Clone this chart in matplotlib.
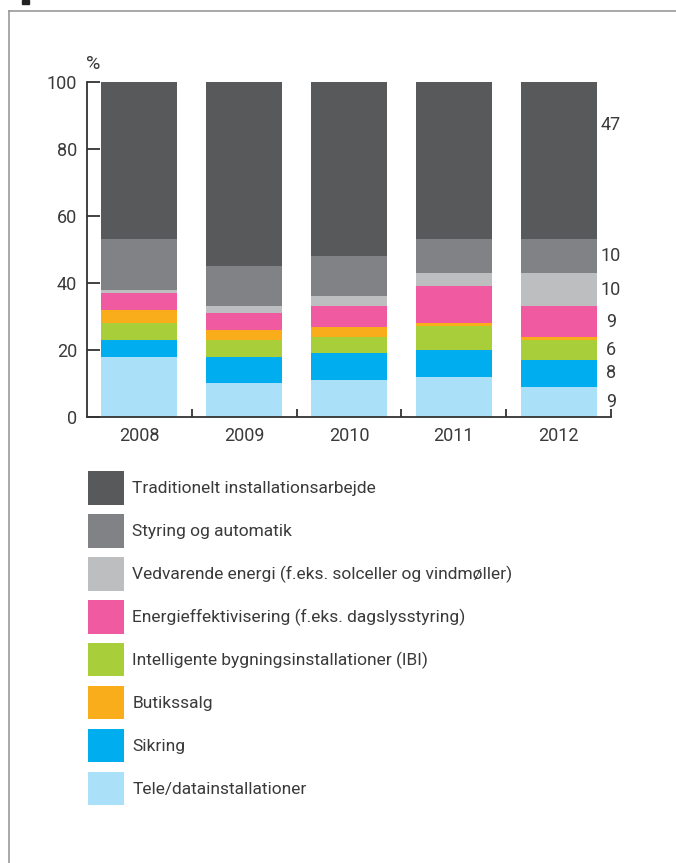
import numpy as np
import matplotlib.pyplot as plt
from matplotlib.patches import Patch, Rectangle
from matplotlib.lines import Line2D

plt.rcParams['font.family'] = ['Liberation Sans Narrow', 'Roboto', 'DejaVu Sans']

years = ['2008', '2009', '2010', '2011', '2012']

# stacked bottom to top
names = ['Tele/datainstallationer', 'Sikring',
         'Intelligente bygningsinstallationer (IBI)', 'Butikssalg',
         'Energieffektivisering (f.eks. dagslysstyring)',
         'Vedvarende energi (f.eks. solceller og vindmøller)',
         'Styring og automatik', 'Traditionelt installationsarbejde']
tele = [18, 10, 11, 12, 9]
sikring = [5, 8, 8, 8, 8]
ibi = [5, 5, 5, 7.3, 6]
butik = [4, 3, 3, 0.7, 1]
energi = [5, 5, 6, 11, 9]
vedvarende = [1, 2, 3, 4, 10]
styring = [15, 12, 12, 10, 10]
traditionelt = [47, 55, 52, 47, 47]
stack = [tele, sikring, ibi, butik, energi, vedvarende, styring, traditionelt]

colors = ['#abe0f9', '#00aeef', '#a8cf3a', '#f9ad1b', '#ef5aa0',
          '#bcbec0', '#808285', '#58595b']
legend_order = ['Traditionelt installationsarbejde', 'Styring og automatik',
                'Vedvarende energi (f.eks. solceller og vindmøller)',
                'Energieffektivisering (f.eks. dagslysstyring)',
                'Intelligente bygningsinstallationer (IBI)', 'Butikssalg',
                'Sikring', 'Tele/datainstallationer']
# labels shown to the right of the 2012 bar (Butikssalg has none)
right_labels = ['9', '8', '6', '', '9', '10', '10', '47']

txt = '#3a3a3a'
W, H = 676, 863
fig = plt.figure(figsize=(W / 100, H / 100), dpi=100)
ax = fig.add_axes([87 / W, 1 - 417 / H, 524 / W, 335 / H])

x = np.arange(len(years))
bottom = np.zeros(len(years))
for vals, name, c in zip(stack, names, colors):
    ax.bar(x, vals, bottom=bottom, width=0.725, color=c, label=name,
           clip_on=False, zorder=2)
    bottom += np.array(vals)

# value labels next to the 2012 bar
last = np.array([s[-1] for s in stack])
starts = np.cumsum(last) - last
for i, lab in enumerate(right_labels):
    if not lab:
        continue
    if i == len(right_labels) - 1:
        ypos = starts[i] + 0.73 * last[i]
    else:
        ypos = starts[i] + last[i] / 2
    ax.text(4.5, ypos, lab, ha='center', va='center', fontsize=13, color=txt)

ax.set_xlim(-0.5, 4.5)
ax.set_ylim(0, 100)
for s in ['top', 'right']:
    ax.spines[s].set_visible(False)
for s in ['left', 'bottom']:
    ax.spines[s].set_color('#333333')
    ax.spines[s].set_linewidth(1.3)

ax.set_yticks([0, 20, 40, 60, 80, 100])
ax.tick_params(axis='y', direction='in', length=9.5, width=1.3,
               color='#333333', labelsize=13, labelcolor=txt, pad=7)
ax.set_xticks(x)
ax.set_xticklabels(years)
ax.tick_params(axis='x', which='major', length=0, labelsize=13,
               labelcolor=txt, pad=7)
ax.set_xticks(np.arange(0.5, 5, 1), minor=True)
ax.tick_params(axis='x', which='minor', direction='in', length=6,
               width=1.3, color='#333333')
ax.text(-0.44, 103.8, '%', ha='center', va='baseline', fontsize=14, color=txt)

# legend
handles = {n: Patch(facecolor=c, edgecolor='none') for n, c in zip(names, colors)}
fig.legend([handles[n] for n in legend_order], legend_order,
           loc='upper left', bbox_to_anchor=(88 / W, 1 - 471 / H),
           frameon=False, fontsize=12.5, handlelength=2.1, handleheight=2.6,
           labelspacing=0.54, handletextpad=0.45, borderpad=0,
           borderaxespad=0, labelcolor=txt)

# frame around the panel
fig.add_artist(Line2D([9 / W, 9 / W], [0, 1 - 11 / H], transform=fig.transFigure,
                      color='#999999', lw=1.2))
fig.add_artist(Line2D([9 / W, 1], [1 - 11 / H, 1 - 11 / H], transform=fig.transFigure,
                      color='#999999', lw=1.2))
fig.add_artist(Rectangle((22 / W, 1 - 4 / H), 7 / W, 4 / H, transform=fig.transFigure,
                         color='#222222'))

fig.savefig('out.png', dpi=100)
